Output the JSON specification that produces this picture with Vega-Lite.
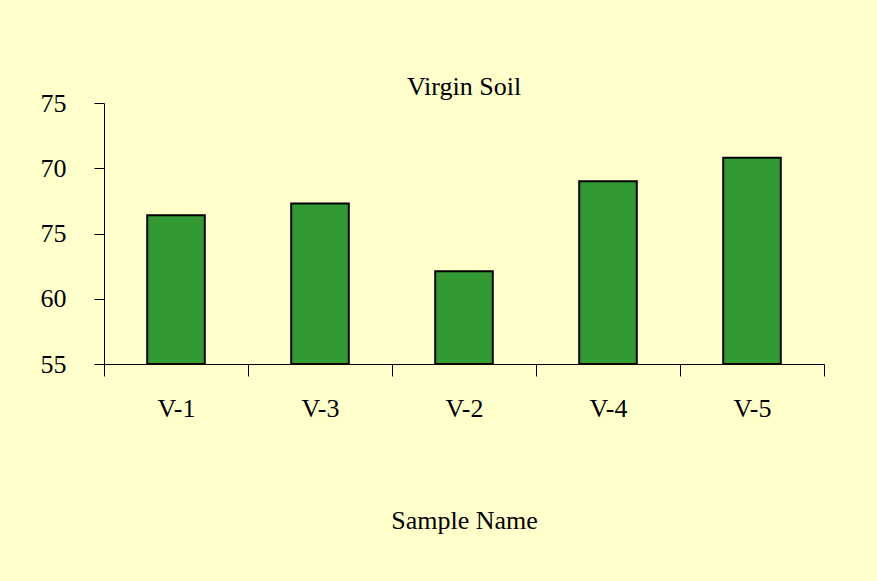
{
  "$schema": "https://vega.github.io/schema/vega-lite/v6.json",
  "width": 720,
  "height": 261,
  "autosize": "none",
  "padding": {"left": 104, "top": 103, "right": 53, "bottom": 217},
  "background": "#FFFFCC",
  "config": {"view": {"stroke": null}, "font": "Liberation Serif"},
  "title": {"text": "Virgin Soil", "font": "Liberation Serif", "fontSize": 26, "fontWeight": "normal", "color": "#000000", "offset": -10},
  "data": {"values": [
    {"sample": "V-1", "value": 66.4},
    {"sample": "V-3", "value": 67.3},
    {"sample": "V-2", "value": 62.1},
    {"sample": "V-4", "value": 69.0},
    {"sample": "V-5", "value": 70.8}
  ]},
  "mark": {"type": "bar", "fill": "#339933", "stroke": "#000000", "strokeWidth": 2, "width": {"band": 0.4}},
  "encoding": {
    "x": {"field": "sample", "type": "nominal", "sort": null, "title": "Sample Name",
      "scale": {"paddingInner": 0, "paddingOuter": 0},
      "axis": {"labelAngle": 0, "labelFont": "Liberation Serif", "labelFontSize": 26, "labelColor": "#000000",
        "titleFont": "Liberation Serif", "titleFontSize": 26, "titleFontWeight": "normal", "titleColor": "#000000",
        "domainColor": "#000000", "tickColor": "#000000", "tickBand": "extent", "tickSize": 12,
        "labelPadding": 19, "titlePadding": 86}},
    "y": {"field": "value", "type": "quantitative", "title": null,
      "scale": {"domain": [55, 75], "zero": false, "nice": false},
      "axis": {"values": [55, 60, 65, 70, 75], "grid": false,
        "labelExpr": "datum.value == 65 ? '75' : datum.label",
        "labelFont": "Liberation Serif", "labelFontSize": 26, "labelColor": "#000000",
        "domainColor": "#000000", "tickColor": "#000000", "tickSize": 10, "labelPadding": 28}},
    "y2": {"datum": 55}
  }
}
